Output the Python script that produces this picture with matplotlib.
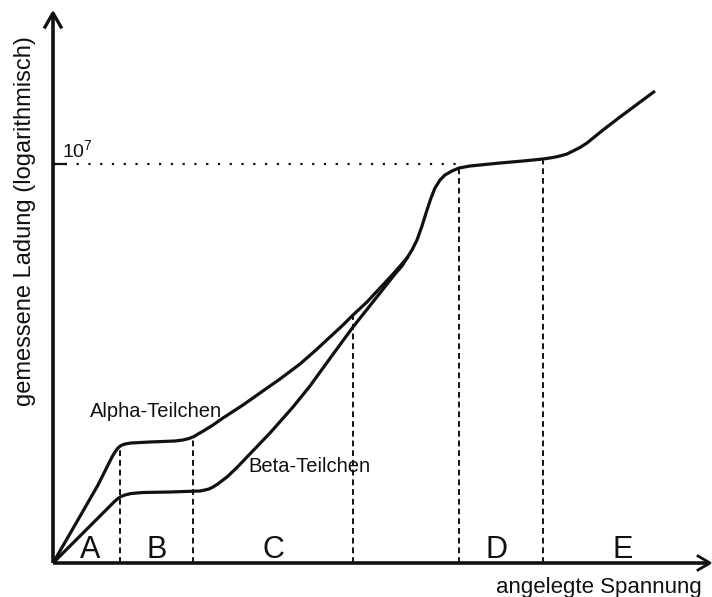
"""Proportional counter characteristic: collected charge vs. applied voltage."""
import matplotlib

matplotlib.use("Agg")
import matplotlib.pyplot as plt
import numpy as np

INK = "#111111"

# curves, read in arbitrary units (voltage, log charge)
alpha_x = [0, 22, 45, 55, 59, 62, 65, 68, 72, 78, 97, 122, 130, 136, 141, 146, 152, 160, 170,
           190, 207, 227, 247, 263, 277, 290, 300, 314, 327, 341, 355]
alpha_y = [0, 38, 78, 98, 106, 111, 115, 117.5, 119, 120, 121, 122, 123, 124.5, 126.5, 129.5,
           133, 138, 145, 158, 170, 184, 199, 213, 226, 238, 248, 261, 275, 290, 306]

beta_x = [0, 22, 42, 55, 59, 62, 65, 68, 72, 78, 90, 117, 147, 152, 156, 160, 164, 168, 174,
          184, 194, 217, 240, 257, 278, 300, 327, 342, 349, 354, 359, 364, 369, 374, 378, 382,
          387, 392, 399, 406, 417, 427, 447, 470, 490, 500, 507, 514, 520, 527, 534, 550, 567,
          602]
beta_y = [0, 22, 42, 55, 59, 62, 64.5, 66.5, 68, 69.5, 70.5, 71, 72, 73, 74, 76, 78.5, 81.5, 86,
          95.5, 106, 130, 156, 177, 206, 236, 270, 289, 297, 305, 313, 323, 337, 353, 365, 375,
          383, 388, 392, 395, 397, 398, 400, 402, 404, 405.5, 407, 409, 412, 415.5, 420, 433,
          446, 472]

# region boundaries and region names
bounds = [67, 140, 300, 406, 490]
regions = ["A", "B", "C", "D", "E"]
region_x = [37, 104, 220, 444, 570]

level_1e7 = 399

plt.rcParams["font.family"] = ["Liberation Sans", "DejaVu Sans"]
plt.rcParams["mathtext.fontset"] = "custom"
plt.rcParams["mathtext.rm"] = "Liberation Sans"
fig = plt.figure(figsize=(7.12, 5.97), dpi=100)
ax = fig.add_axes([0, 0, 1, 1])
ax.set_xlim(-53, 659)
ax.set_ylim(-34, 563)
ax.axis("off")

# axes with open arrow heads
ax.plot([0, 0], [0, 549], color=INK, lw=2.6, solid_capstyle="butt")
ax.plot([0, 656], [0, 0], color=INK, lw=2.6, solid_capstyle="butt")
ax.plot([-8, 0, 8], [536, 550, 536], color=INK, lw=2.4)
ax.plot([645, 657, 645], [7, 0, -7], color=INK, lw=2.0)

# curves
ax.plot(alpha_x, alpha_y, color=INK, lw=2.3, solid_capstyle="butt", solid_joinstyle="round")
ax.plot(beta_x, beta_y, color=INK, lw=2.3, solid_capstyle="butt", solid_joinstyle="round")

# dashed region boundaries up to the upper curve
for b in bounds:
    top = max(np.interp(b, alpha_x, alpha_y, right=-1), np.interp(b, beta_x, beta_y))
    ax.plot([b, b], [0, top], color=INK, lw=1.4, ls=(0, (3, 2)))

for name, x in zip(regions, region_x):
    ax.text(x, 5, name, ha="center", va="baseline", fontsize=22, color=INK)

# 10^7 marker
ax.plot([0, bounds[3]], [level_1e7, level_1e7], color=INK, lw=1.6, ls=(0, (1, 4.3)))
ax.plot([2, 12], [level_1e7, level_1e7], color=INK, lw=1.6)
ax.text(9, 405, r"10$^{\mathrm{7}}$", ha="left", va="baseline", fontsize=14, color=INK)

ax.text(37, 146, "Alpha-Teilchen", ha="left", va="baseline", fontsize=14.5, color=INK)
ax.text(195, 91, "Beta-Teilchen", ha="left", va="baseline", fontsize=14.5, color=INK)

ax.text(649, -30, "angelegte Spannung", ha="right", va="baseline", fontsize=16, color=INK)
ax.text(-28, 342, "gemessene Ladung (logarithmisch)", ha="center", va="center",
        rotation=90, fontsize=17, color=INK)

fig.savefig("out.png", dpi=100, facecolor="white")
